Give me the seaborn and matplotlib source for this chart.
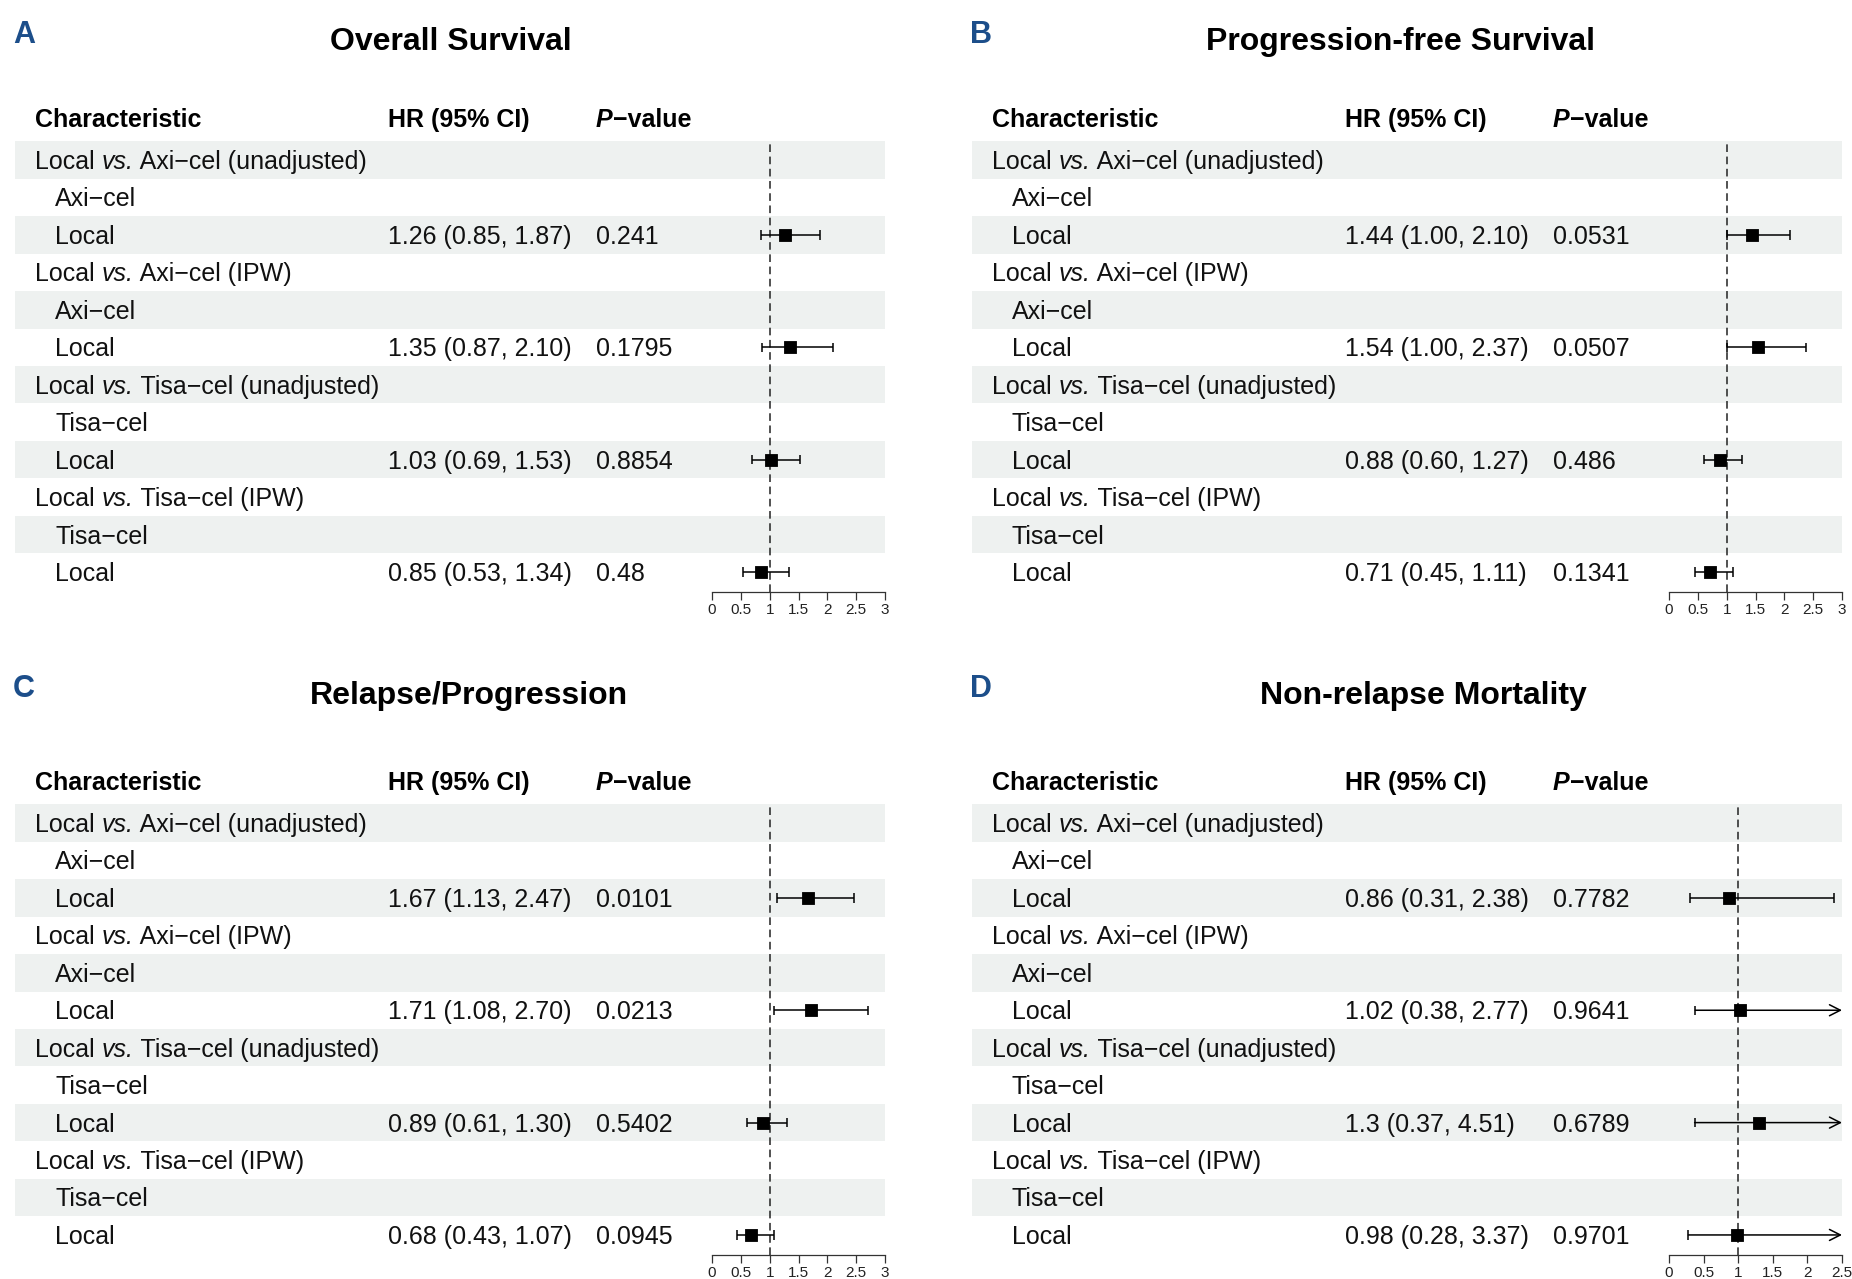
import numpy as np
import pandas as pd
import matplotlib
matplotlib.use("Agg")
import matplotlib.pyplot as plt
import seaborn as sns

# ---------------- data ----------------
panel_letters = ["A", "B", "C", "D"]
panel_titles = ["Overall Survival", "Progression-free Survival",
                "Relapse/Progression", "Non-relapse Mortality"]
comparators = ["Axi−cel", "Axi−cel", "Tisa−cel", "Tisa−cel"]
adjustments = ["unadjusted", "IPW", "unadjusted", "IPW"]

os_hr = [1.26, 1.35, 1.03, 0.85]
os_lo = [0.85, 0.87, 0.69, 0.53]
os_hi = [1.87, 2.10, 1.53, 1.34]
os_p = [0.241, 0.1795, 0.8854, 0.48]

pfs_hr = [1.44, 1.54, 0.88, 0.71]
pfs_lo = [1.00, 1.00, 0.60, 0.45]
pfs_hi = [2.10, 2.37, 1.27, 1.11]
pfs_p = [0.0531, 0.0507, 0.486, 0.1341]

rp_hr = [1.67, 1.71, 0.89, 0.68]
rp_lo = [1.13, 1.08, 0.61, 0.43]
rp_hi = [2.47, 2.70, 1.30, 1.07]
rp_p = [0.0101, 0.0213, 0.5402, 0.0945]

nrm_hr = [0.86, 1.02, 1.3, 0.98]
nrm_lo = [0.31, 0.38, 0.37, 0.28]
nrm_hi = [2.38, 2.77, 4.51, 3.37]
nrm_p = [0.7782, 0.9641, 0.6789, 0.9701]

axis_max = [3, 3, 3, 2.5]
axis_ticks = [[0, 0.5, 1, 1.5, 2, 2.5, 3]] * 3 + [[0, 0.5, 1, 1.5, 2, 2.5]]

panels = [
    (os_hr, os_lo, os_hi, os_p),
    (pfs_hr, pfs_lo, pfs_hi, pfs_p),
    (rp_hr, rp_lo, rp_hi, rp_p),
    (nrm_hr, nrm_lo, nrm_hi, nrm_p),
]

# ---------------- style ----------------
sns.set_theme(style="white")
plt.rcParams["font.family"] = ["Liberation Sans", "DejaVu Sans"]

W, H = 1852, 1279
fig = plt.figure(figsize=(W / 100, H / 100), dpi=100)
canvas = fig.add_axes([0, 0, 1, 1], zorder=0)
canvas.set_xlim(0, W)
canvas.set_ylim(H, 0)
canvas.axis("off")
renderer = fig.canvas.get_renderer()

# layout (pixels)
offsets = [(0, 0), (957, 0), (0, 663), (957, 663)]
title_cx = [451, 1401, 469, 1423]
ROW0, PITCH, AXIS_Y = 160.0, 37.45, 592.0
BAND_L, BAND_R = 15, 885
AX_L, AX_R = 712, 885
X_CHAR, X_IND, X_HR, X_P = 35, 55, 388, 596
SHADE = "#EEF1F0"
TXT = "#111111"
ROW_FS, HEAD_FS = 18, 18
BASE_OFF = 9.0


def text_width(s, **kw):
    t1 = canvas.text(0, 0, s + "|", **kw)
    w1 = t1.get_window_extent(renderer).width
    t1.remove()
    t2 = canvas.text(0, 0, "|", **kw)
    w2 = t2.get_window_extent(renderer).width
    t2.remove()
    return w1 - w2


def draw_segments(x, y, segments, **base):
    for s, extra in segments:
        kw = dict(base)
        kw.update(extra)
        canvas.text(x, y, s, ha="left", va="baseline", **kw)
        x += text_width(s, **kw)


for p in range(4):
    dx, dy = offsets[p]
    hr, lo, hi, pv = panels[p]
    xmax = axis_max[p]
    tdy = 654 if dy else 0

    # panel letter and title
    canvas.text(13 + dx, 43 + tdy, panel_letters[p], fontsize=22, fontweight="bold",
                color="#1C4E8A", ha="left", va="baseline")
    canvas.text(title_cx[p], 50 + tdy, panel_titles[p], fontsize=23, fontweight="bold",
                color="black", ha="center", va="baseline")

    # header
    hy = 127 + dy
    canvas.text(X_CHAR + dx, hy, "Characteristic", fontsize=HEAD_FS, fontweight="bold",
                color="black", ha="left", va="baseline")
    canvas.text(X_HR + dx, hy, "HR (95% CI)", fontsize=HEAD_FS, fontweight="bold",
                color="black", ha="left", va="baseline")
    draw_segments(X_P + dx, hy, [("P", dict(fontstyle="italic")), ("−value", {})],
                  fontsize=HEAD_FS, fontweight="bold", color="black")

    # rows
    for r in range(12):
        yc = ROW0 + dy + r * PITCH
        if r % 2 == 0:
            canvas.add_patch(plt.Rectangle((BAND_L + dx, yc - PITCH / 2), BAND_R - BAND_L,
                                           PITCH, facecolor=SHADE, edgecolor="none", zorder=0))
        k, sub = divmod(r, 3)
        yb = yc + BASE_OFF
        if sub == 0:
            draw_segments(X_CHAR + dx, yb,
                          [("Local ", {}), ("vs.", dict(fontstyle="italic")),
                           (f" {comparators[k]} ({adjustments[k]})", {})],
                          fontsize=ROW_FS, color=TXT)
        elif sub == 1:
            canvas.text(X_IND + dx, yb, comparators[k], fontsize=ROW_FS, color=TXT,
                        ha="left", va="baseline")
        else:
            canvas.text(X_IND + dx, yb, "Local", fontsize=ROW_FS, color=TXT,
                        ha="left", va="baseline")
            canvas.text(X_HR + dx, yb, f"{hr[k]:g} ({lo[k]:.2f}, {hi[k]:.2f})",
                        fontsize=ROW_FS, color=TXT, ha="left", va="baseline")
            canvas.text(X_P + dx, yb, f"{pv[k]:g}", fontsize=ROW_FS, color=TXT,
                        ha="left", va="baseline")

    # forest axes
    top_px = ROW0 - PITCH / 2 + dy
    bot_px = AXIS_Y + dy
    ax = fig.add_axes([(AX_L + dx) / W, 1 - bot_px / H, (AX_R - AX_L) / W,
                       (bot_px - top_px) / H], zorder=2)
    ax.set_facecolor("none")
    df = pd.DataFrame({"row": [3 * k + 2 for k in range(4)], "hr": hr, "lo": lo, "hi": hi})

    ax.axvline(1, color="#222222", lw=1.1, ls=(0, (5.0, 3.0)), zorder=1)
    cap = 4.7 / PITCH
    for _, d in df.iterrows():
        ax.plot([d.lo, d.lo], [d.row - cap, d.row + cap], color="black", lw=1.1,
                solid_capstyle="butt", zorder=2, clip_on=False)
        if d.hi > xmax:
            ax.annotate("", xy=(xmax, d.row), xytext=(d.lo, d.row), annotation_clip=False,
                        arrowprops=dict(arrowstyle="->,head_length=0.65,head_width=0.33",
                                        color="black", lw=1.1, shrinkA=0, shrinkB=0))
        else:
            ax.hlines(d.row, d.lo, d.hi, color="black", lw=1.1, zorder=2)
            ax.plot([d.hi, d.hi], [d.row - cap, d.row + cap], color="black", lw=1.1,
                    solid_capstyle="butt", zorder=2, clip_on=False)
    sns.scatterplot(data=df, x="hr", y="row", marker="s", s=78, color="black",
                    edgecolor="black", linewidth=0.6, ax=ax, zorder=3, legend=False,
                    clip_on=False)

    ax.set_xlim(0, xmax)
    ax.set_ylim((AXIS_Y - ROW0) / PITCH, -0.5)
    ax.set_xticks(axis_ticks[p])
    ax.set_xticklabels([f"{t:g}" for t in axis_ticks[p]])
    ax.set_yticks([])
    ax.set_xlabel("")
    ax.set_ylabel("")
    for side in ["top", "left", "right"]:
        ax.spines[side].set_visible(False)
    ax.spines["bottom"].set_color("#333333")
    ax.spines["bottom"].set_linewidth(0.9)
    ax.tick_params(axis="x", direction="out", length=5.8, width=0.9, color="#333333",
                   pad=2.0, labelsize=11, labelcolor="#222222", bottom=True)
    ax.grid(False)

fig.savefig("out.png", dpi=100)
